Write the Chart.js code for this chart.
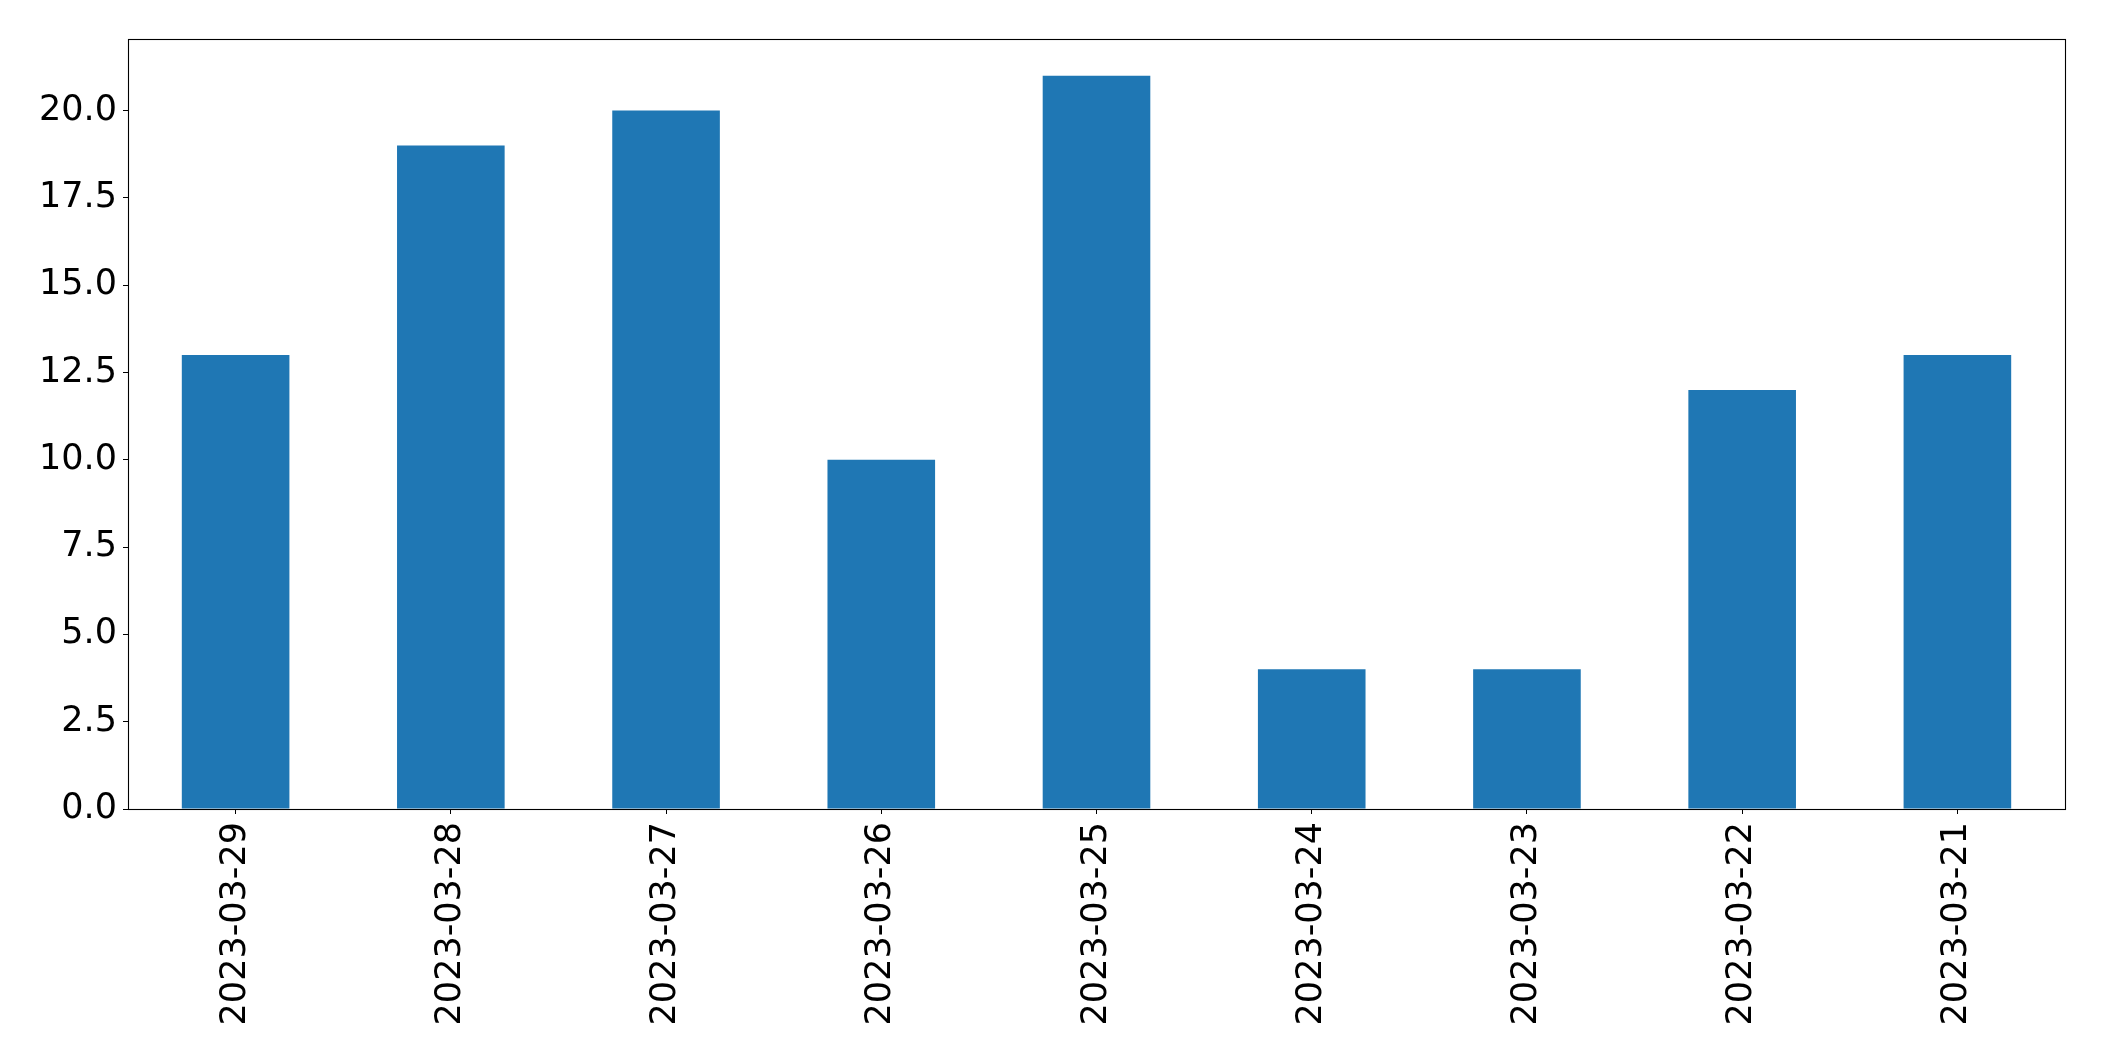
<!DOCTYPE html>
<html>
<head>
<meta charset="utf-8">
<script src="https://cdn.jsdelivr.net/npm/chart.js@4/dist/chart.umd.min.js"></script>
<style>
  html, body { margin: 0; padding: 0; background: #fff; }
  canvas { display: block; }
</style>
</head>
<body>
<canvas id="c" width="2104" height="1061"></canvas>
<script>
const categories = ["2023-03-29","2023-03-28","2023-03-27","2023-03-26","2023-03-25","2023-03-24","2023-03-23","2023-03-22","2023-03-21"];
const values = [13, 19, 20, 10, 21, 4, 4, 12, 13];
const yMin = 0;
const yMax = 22.05;
const yStep = 2.5;

const frame = {
  id: 'frame',
  afterDraw(chart) {
    const a = chart.chartArea, ctx = chart.ctx;
    ctx.save();
    ctx.strokeStyle = '#000';
    ctx.lineWidth = 1.1;
    ctx.strokeRect(Math.round(a.left) + 0.5, Math.round(a.top) + 0.5, Math.round(a.right - a.left), Math.round(a.bottom - a.top));
    ctx.restore();
  }
};

new Chart(document.getElementById('c'), {
  type: 'bar',
  data: {
    labels: categories,
    datasets: [{
      data: values,
      backgroundColor: '#1f77b4',
      borderWidth: 0,
      barPercentage: 0.5,
      categoryPercentage: 1.0
    }]
  },
  options: {
    responsive: false,
    animation: false,
    devicePixelRatio: 1,
    layout: { padding: { top: 39, right: 39, left: 0, bottom: 0 } },
    plugins: { legend: { display: false }, tooltip: { enabled: false } },
    scales: {
      x: {
        offset: true,
        grid: { display: true, drawOnChartArea: false, drawTicks: true, tickLength: 5, color: '#000', offset: false },
        border: { display: false },
        ticks: {
          color: '#000',
          font: { family: 'DejaVu Sans', size: 35 },
          minRotation: 90, maxRotation: 90,
          padding: 8,
          autoSkip: false
        },
        afterFit(s) { s.height = 252; }
      },
      y: {
        min: yMin, max: yMax,
        grid: { display: true, drawOnChartArea: false, drawTicks: true, tickLength: 5, color: '#000' },
        border: { display: false },
        ticks: {
          stepSize: yStep,
          includeBounds: false,
          color: '#000',
          font: { family: 'DejaVu Sans', size: 35 },
          padding: 6,
          callback: v => Number(v).toFixed(1)
        },
        afterFit(s) { s.width = 128; }
      }
    }
  },
  plugins: [frame]
});
</script>
</body>
</html>
